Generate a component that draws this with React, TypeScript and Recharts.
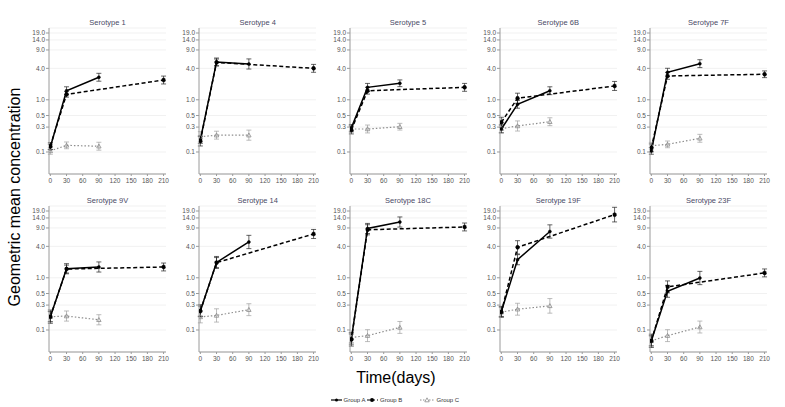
import React from 'react';
import { LineChart, Line, XAxis, YAxis, CartesianGrid, ErrorBar } from 'recharts';

const serotypes = ['Serotype 1', 'Serotype 4', 'Serotype 5', 'Serotype 6B', 'Serotype 7F', 'Serotype 9V', 'Serotype 14', 'Serotype 18C', 'Serotype 19F', 'Serotype 23F'];
const daysA = [0, 30, 90];
const daysB = [0, 30, 210];
const daysC = [0, 30, 90];

const groupA = [
  [0.125, 1.49, 2.7], [0.17, 5.3, 4.85], [0.29, 1.73, 2.07], [0.276, 0.82, 1.49], [0.105, 3.37, 4.92],
  [0.18, 1.49, 1.61], [0.234, 1.97, 4.85], [0.067, 8.8, 11.7], [0.227, 2.22, 7.7], [0.062, 0.55, 0.99],
];
const groupB = [
  [0.13, 1.27, 2.39], [0.163, 5.2, 4.0], [0.264, 1.49, 1.73], [0.37, 1.07, 1.84], [0.12, 2.86, 3.08],
  [0.18, 1.47, 1.61], [0.23, 1.95, 6.9], [0.066, 8.3, 9.4], [0.22, 3.83, 16.2], [0.062, 0.67, 1.24],
];
const groupC = [
  [0.105, 0.134, 0.129], [0.196, 0.21, 0.21], [0.276, 0.276, 0.305], [0.28, 0.315, 0.38], [0.132, 0.14, 0.183],
  [0.18, 0.185, 0.157], [0.178, 0.19, 0.245], [0.072, 0.078, 0.112], [0.22, 0.25, 0.29], [0.062, 0.078, 0.114],
];
// multiplicative confidence-interval factors
const ciA = [
  [1.13, 1.19, 1.19], [1.16, 1.19, 1.25], [1.16, 1.19, 1.16], [1.19, 1.19, 1.19], [1.16, 1.19, 1.19],
  [1.25, 1.25, 1.25], [1.3, 1.3, 1.34], [1.25, 1.25, 1.25], [1.25, 1.25, 1.34], [1.25, 1.3, 1.34],
];
const ciB = [
  [1.16, 1.13, 1.19], [1.25, 1.16, 1.19], [1.19, 1.16, 1.19], [1.25, 1.25, 1.22], [1.19, 1.16, 1.16],
  [1.34, 1.19, 1.19], [1.25, 1.25, 1.22], [1.34, 1.25, 1.19], [1.25, 1.34, 1.38], [1.34, 1.3, 1.19],
];
const ciC = [
  [1.16, 1.16, 1.19], [1.25, 1.19, 1.25], [1.16, 1.19, 1.16], [1.19, 1.25, 1.19], [1.16, 1.16, 1.19],
  [1.25, 1.25, 1.25], [1.3, 1.34, 1.3], [1.25, 1.3, 1.3], [1.25, 1.3, 1.38], [1.25, 1.3, 1.3],
];
const yTicks = [0.1, 0.3, 0.5, 1, 4, 9, 14, 19];
const xTicks = [0, 30, 60, 90, 120, 150, 180, 210];
const yDomain = [0.0379, 23.7];
const xDomain = [-2.5, 214.5];

const FONT = '"Liberation Sans", Arial, sans-serif';
const TICK_COLOR = '#555555';

const build = (days: number[], vals: number[], ci: number[]) =>
  days.map((d, i) => ({ day: d, v: vals[i], err: [vals[i] - vals[i] / ci[i], vals[i] * ci[i] - vals[i]] }));

const Tri = (props: any) => {
  const { cx, cy } = props;
  if (cx == null || cy == null) return null;
  const s = 2.2;
  return (
    <path
      d={`M${cx},${cy - s} L${cx + s},${cy + s * 0.8} L${cx - s},${cy + s * 0.8} Z`}
      fill="none"
      stroke="#8c8c8c"
      strokeWidth={0.8}
    />
  );
};

const XTick = (props: any) => {
  const { x, y, payload } = props;
  return (
    <text x={x} y={y + 6} textAnchor="middle" fontSize={6.5} fill={TICK_COLOR} fontFamily={FONT}>
      {payload.value}
    </text>
  );
};

const YTick = (props: any) => {
  const { x, y, payload } = props;
  return (
    <text x={x} y={y + 2.3} textAnchor="end" fontSize={6.5} fill={TICK_COLOR} fontFamily={FONT}>
      {Number(payload.value).toFixed(1)}
    </text>
  );
};

const PLOT_W = 117;
const PLOT_H = 146;
const YW = 40;
const MT = 6;
const XH = 18;

function Panel({ idx }: { idx: number }) {
  const col = idx % 5;
  const row = Math.floor(idx / 5);
  const axisX = 49 + col * 150.25;
  const plotTop = row === 0 ? 28 : 206;
  const dA = build(daysA, groupA[idx], ciA[idx]);
  const dB = build(daysB, groupB[idx], ciB[idx]);
  const dC = build(daysC, groupC[idx], ciC[idx]);
  return (
    <div style={{ position: 'absolute', left: axisX - YW, top: plotTop - MT }}>
      <LineChart width={YW + PLOT_W + 4} height={MT + PLOT_H + XH} margin={{ top: MT, right: 4, bottom: 0, left: 0 }}>
        <CartesianGrid vertical={false} stroke="#ededed" strokeWidth={0.8} />
        <XAxis
          type="number"
          dataKey="day"
          domain={xDomain}
          ticks={xTicks}
          allowDataOverflow
          height={XH}
          tickSize={2}
          tickMargin={1}
          stroke="#9a9a9a"
          tick={<XTick />}
          interval={0}
        />
        <YAxis
          type="number"
          scale="log"
          domain={yDomain}
          ticks={yTicks}
          allowDataOverflow
          width={YW}
          tickSize={3}
          tickMargin={1}
          stroke="#9a9a9a"
          interval={0}
          tick={<YTick />}
        />
        <Line
          data={dC}
          dataKey="v"
          stroke="#8c8c8c"
          strokeWidth={1.2}
          strokeDasharray="1.5 2"
          dot={<Tri />}
          isAnimationActive={false}
        >
          <ErrorBar dataKey="err" direction="y" width={2.5} stroke="#a0a0a0" strokeWidth={0.7} />
        </Line>
        <Line
          data={dB}
          dataKey="v"
          stroke="#000"
          strokeWidth={1.5}
          strokeDasharray="4 2.5"
          dot={{ r: 2, fill: '#000', stroke: '#000', strokeWidth: 0.5 }}
          isAnimationActive={false}
        >
          <ErrorBar dataKey="err" direction="y" width={2.5} stroke="#222" strokeWidth={0.7} />
        </Line>
        <Line
          data={dA}
          dataKey="v"
          stroke="#000"
          strokeWidth={1.5}
          dot={{ r: 1.5, fill: '#000', stroke: '#000', strokeWidth: 0.5 }}
          isAnimationActive={false}
        >
          <ErrorBar dataKey="err" direction="y" width={2.5} stroke="#222" strokeWidth={0.7} />
        </Line>
      </LineChart>
    </div>
  );
}

export default function App() {
  return (
    <div style={{ position: 'absolute', left: 0, top: 0, width: 785, height: 407, background: '#fff', overflow: 'hidden', fontFamily: FONT }}>
      {serotypes.map((_, i) => (
        <Panel key={i} idx={i} />
      ))}
      <svg width={785} height={407} style={{ position: 'absolute', left: 0, top: 0, pointerEvents: 'none' }}>
        {serotypes.map((s, i) => {
          const col = i % 5;
          const row = Math.floor(i / 5);
          const cx = 49 + col * 150.25 + PLOT_W / 2;
          const cy = row === 0 ? 24.5 : 202.5;
          return (
            <text key={s} x={cx} y={cy} textAnchor="middle" fontSize={7.5} fill="#4a4a66" fontFamily={FONT}>
              {s}
            </text>
          );
        })}
        <text x={0} y={0} transform="translate(20,197) rotate(-90)" textAnchor="middle" fontSize={16} fill="#000" fontFamily={FONT}>
          Geometric mean concentration
        </text>
        <text x={396} y={383} textAnchor="middle" fontSize={16} fill="#000" fontFamily={FONT}>
          Time(days)
        </text>
        <g fontFamily={FONT} fontSize={6} fill="#333">
          <line x1={331} y1={400} x2={342} y2={400} stroke="#000" strokeWidth={1.2} />
          <circle cx={336.5} cy={400} r={1.5} fill="#000" />
          <text x={343.5} y={402}>Group A</text>
          <line x1={367} y1={400} x2={378} y2={400} stroke="#000" strokeWidth={1.2} strokeDasharray="3 2" />
          <circle cx={372} cy={400} r={2} fill="#000" />
          <text x={380} y={402}>Group B</text>
          <line x1={420} y1={400} x2={435} y2={400} stroke="#8c8c8c" strokeWidth={1} strokeDasharray="1.5 1.5" />
          <path d="M427,397.8 L429.2,401.8 L424.8,401.8 Z" fill="#fff" stroke="#8c8c8c" strokeWidth={0.8} />
          <text x={436.5} y={402}>Group C</text>
        </g>
      </svg>
    </div>
  );
}
